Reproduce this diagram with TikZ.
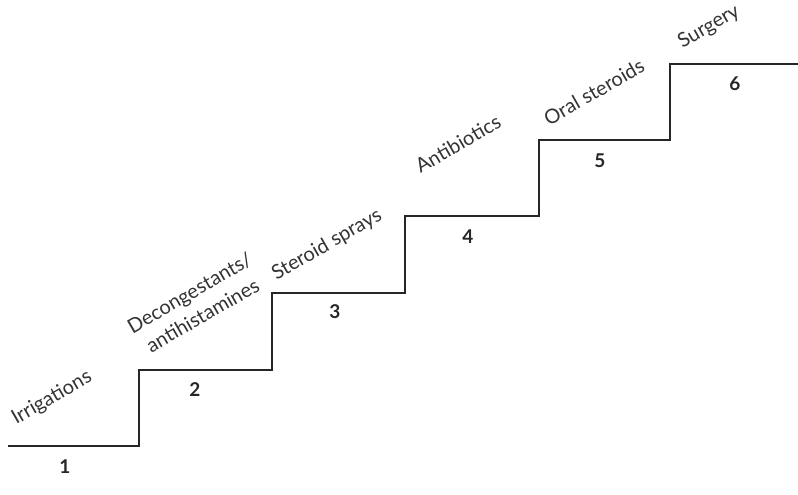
\documentclass[tikz,border=0pt]{standalone}
\usepackage{fontspec}
\setmainfont{Lato}
\begin{document}
\begin{tikzpicture}[x=1pt,y=-1pt,
  stair/.style={line width=2.2pt, draw=black!85},
  lbl/.style={rotate=30, font=\fontsize{20}{26}\selectfont, text=black!80, inner sep=0pt},
  num/.style={font=\bfseries\fontsize{19}{21}\selectfont, text=black!85, inner sep=0pt}]
\useasboundingbox (0,0) rectangle (798,495);
\coordinate (s0) at (8,446);
\coordinate (s1a) at (139,446);
\coordinate (s1b) at (139,370);
\coordinate (s2a) at (272,370);
\coordinate (s2b) at (272,293);
\coordinate (s3a) at (405,293);
\coordinate (s3b) at (405,216);
\coordinate (s4a) at (539,216);
\coordinate (s4b) at (539,140);
\coordinate (s5a) at (670,140);
\coordinate (s5b) at (670,64);
\coordinate (s6) at (798,64);
\draw[stair] (s0) -- (s1a) -- (s1b) -- (s2a) -- (s2b) -- (s3a) -- (s3b) -- (s4a) -- (s4b) -- (s5a) -- (s5b) -- (s6);
\node[lbl] (l1) at (52,398) {Irrigations};
\node[lbl, align=center] (l2) at (196,304) {Decongestants/\\antihistamines};
\node[lbl] (l3) at (327,245) {Steroid sprays};
\node[lbl] (l4) at (458,144) {Antibiotics};
\node[lbl] (l5) at (594,92) {Oral steroids};
\node[lbl] (l6) at (709,27) {Surgery};
\node[num] (n1) at (65,467) {1};
\node[num] (n2) at (195,390) {2};
\node[num] (n3) at (335,312) {3};
\node[num] (n4) at (468,237) {4};
\node[num] (n5) at (600,161) {5};
\node[num] (n6) at (735,84) {6};
\end{tikzpicture}
\end{document}
